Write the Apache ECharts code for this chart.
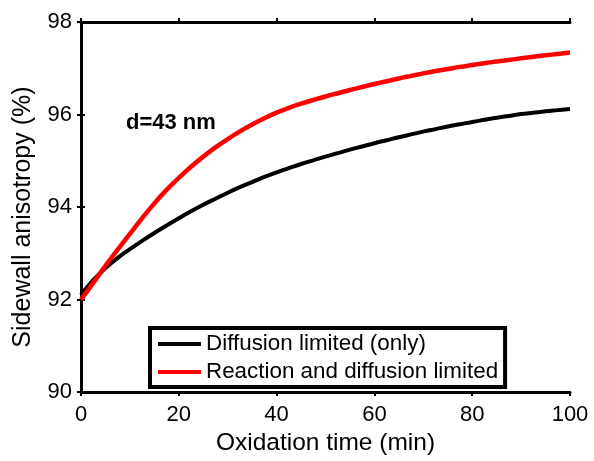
<!DOCTYPE html>
<html>
<head>
<meta charset="utf-8">
<script src="https://cdn.jsdelivr.net/npm/echarts@6/dist/echarts.min.js"></script>
<style>html,body{margin:0;padding:0;background:#fff}#c{width:594px;height:461px}</style>
</head>
<body>
<div id="c"></div>
<script>
var seriesNames = ['Diffusion limited (only)', 'Reaction and diffusion limited'];
var times = [0, 2.5, 5, 7.5, 10, 12.5, 15, 17.5, 20, 22.5, 25, 27.5, 30, 32.5, 35, 37.5, 40, 42.5, 45, 47.5, 50,
             52.5, 55, 57.5, 60, 62.5, 65, 67.5, 70, 72.5, 75, 77.5, 80, 82.5, 85, 87.5, 90, 92.5, 95, 97.5, 100];
var valDiff = [92.10, 92.42, 92.68, 92.90, 93.09, 93.27, 93.44, 93.60, 93.76, 93.91, 94.05, 94.18, 94.31, 94.43, 94.54, 94.65, 94.75, 94.84, 94.93, 95.01, 95.09,
               95.165, 95.24, 95.31, 95.38, 95.445, 95.51, 95.57, 95.63, 95.685, 95.74, 95.79, 95.84, 95.885, 95.93, 95.97, 96.01, 96.04, 96.07, 96.095, 96.12];
var valReac = [92.00, 92.36, 92.73, 93.08, 93.42, 93.76, 94.08, 94.37, 94.63, 94.87, 95.09, 95.29, 95.47, 95.635, 95.785, 95.92, 96.04, 96.145, 96.235, 96.315, 96.39,
               96.46, 96.53, 96.595, 96.66, 96.72, 96.78, 96.835, 96.89, 96.94, 96.985, 97.03, 97.07, 97.11, 97.145, 97.18, 97.215, 97.25, 97.28, 97.31, 97.34];
var xTicks = [0, 20, 40, 60, 80, 100];
var yTicks = [90, 92, 94, 96, 98];
var annotation = 'd=43 nm';
var xName = 'Oxidation time (min)';
var yName = 'Sidewall anisotropy (%)';

function pairs(xs, ys) { return xs.map(function (x, i) { return [x, ys[i]]; }); }

var font = 'Liberation Sans, Arial, sans-serif';
var axisCommon = {
  axisLine: { show: true, lineStyle: { color: '#000', width: 3 } },
  axisTick: { show: true, inside: false, length: 4, lineStyle: { color: '#000', width: 2 } },
  splitLine: { show: false }
};

var chart = echarts.init(document.getElementById('c'), null, { renderer: 'canvas' });
chart.setOption({
  backgroundColor: '#fff',
  animation: false,
  grid: { left: 81, right: 24, top: 22, bottom: 64, containLabel: false },
  title: {
    text: annotation, left: 121, top: 107,
    textStyle: { fontFamily: font, fontSize: 22, fontWeight: 'bold', color: '#000' }
  },
  legend: {
    orient: 'vertical', left: 150, top: 328,
    backgroundColor: '#fff', borderColor: '#000', borderWidth: 4,
    padding: [5, 7, 4, 8], itemGap: 6, itemWidth: 43, itemHeight: 4,
    icon: 'rect',
    textStyle: { fontFamily: font, fontSize: 22.4, color: '#000' },
    data: seriesNames
  },
  xAxis: [
    Object.assign({}, axisCommon, {
      type: 'value', position: 'bottom', min: xTicks[0], max: xTicks[xTicks.length - 1], interval: 20,
      name: xName, nameLocation: 'middle', nameGap: 35,
      nameTextStyle: { fontFamily: font, fontSize: 24.5, color: '#000' },
      axisLabel: { margin: 12, fontFamily: font, fontSize: 22, color: '#000' }
    }),
    Object.assign({}, axisCommon, {
      type: 'value', position: 'top', min: xTicks[0], max: xTicks[xTicks.length - 1], interval: 20,
      axisLabel: { show: false }
    })
  ],
  yAxis: [
    Object.assign({}, axisCommon, {
      type: 'value', position: 'left', min: yTicks[0], max: yTicks[yTicks.length - 1], interval: 2,
      name: yName, nameLocation: 'middle', nameGap: 45, nameRotate: 90,
      nameTextStyle: { fontFamily: font, fontSize: 25, color: '#000', padding: [0, 20, 0, 0] },
      axisLabel: { margin: 9, fontFamily: font, fontSize: 22, color: '#000' }
    }),
    Object.assign({}, axisCommon, {
      type: 'value', position: 'right', min: yTicks[0], max: yTicks[yTicks.length - 1], interval: 2,
      axisLabel: { show: false }
    })
  ],
  series: [
    {
      name: seriesNames[0], type: 'line', data: pairs(times, valDiff),
      smooth: 0.4, showSymbol: false, symbol: 'none',
      lineStyle: { color: '#000', width: 4 }, itemStyle: { color: '#000' }, z: 3
    },
    {
      name: seriesNames[1], type: 'line', data: pairs(times, valReac),
      smooth: 0.4, showSymbol: false, symbol: 'none',
      lineStyle: { color: '#ff0000', width: 4.5 }, itemStyle: { color: '#ff0000' }, z: 4
    }
  ]
});
</script>
</body>
</html>
